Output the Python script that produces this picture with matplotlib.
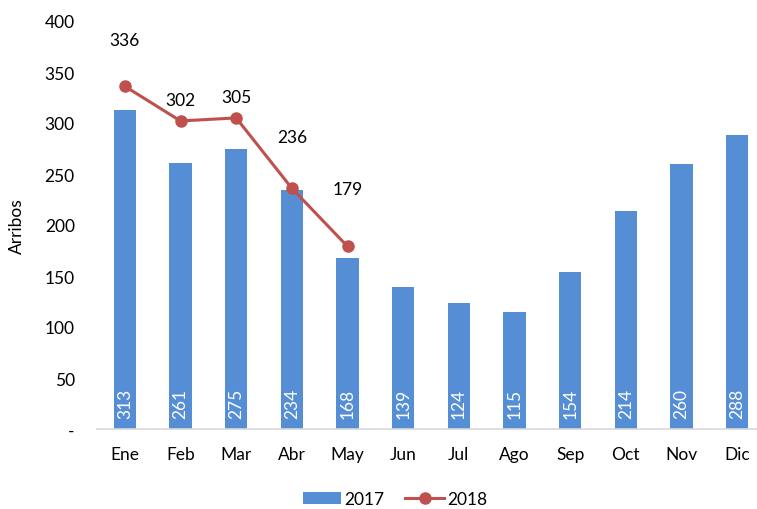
import matplotlib
matplotlib.use("Agg")
import matplotlib.pyplot as plt
import numpy as np

months = ["Ene", "Feb", "Mar", "Abr", "May", "Jun", "Jul", "Ago", "Sep", "Oct", "Nov", "Dic"]
arribos_2017 = [313, 261, 275, 234, 168, 139, 124, 115, 154, 214, 260, 288]
arribos_2018 = [336, 302, 305, 236, 179]
yticks = [0, 50, 100, 150, 200, 250, 300, 350, 400]

plt.rcParams["font.family"] = ["Lato", "DejaVu Sans"]

BAR_COLOR = "#558ED5"
LINE_COLOR = "#C0504D"

fig = plt.figure(figsize=(7.57, 5.10), dpi=100)
W, H = 757, 510
ax = fig.add_axes([97 / W, 80 / H, (765 - 97) / W, 408 / H])

x = np.arange(len(months))
bars = ax.bar(x, arribos_2017, width=0.4, color=BAR_COLOR, label="2017", zorder=2)
x18 = np.arange(len(arribos_2018))
line, = ax.plot(x18, arribos_2018, color=LINE_COLOR, linewidth=2.2, marker="o",
                markersize=8, label="2018", zorder=3)

# labels inside the bars, rotated
for xi, v in zip(x, arribos_2017):
    ax.annotate(str(v), (xi, 0), textcoords="offset points", xytext=(0, 8),
                rotation=90, ha="center", va="bottom", color="white", fontsize=12.5)

# labels above 2018 points
offsets = [33, 15, 15, 37, 41]
for xi, v, off in zip(x18, arribos_2018, offsets):
    ax.annotate(str(v), (xi, v), textcoords="offset points", xytext=(0, off),
                ha="center", va="center", color="black", fontsize=12.5)

ax.set_xlim(-0.5, 11.5)
ax.set_ylim(0, 400)
ax.set_xticks(x)
ax.set_xticklabels(months, fontsize=12.5)
ax.set_yticks(yticks)
ax.set_yticklabels(["-" if t == 0 else str(t) for t in yticks], fontsize=12.5)
ax.set_ylabel("Arribos", fontsize=12.5, labelpad=14)
ax.tick_params(axis="x", length=0, pad=12)
ax.tick_params(axis="y", length=0, pad=16)

for s in ["top", "right", "left"]:
    ax.spines[s].set_visible(False)
ax.spines["bottom"].set_color("#D9D9D9")
ax.spines["bottom"].set_linewidth(1.2)

fig.legend([bars, line], ["2017", "2018"], loc="center",
           bbox_to_anchor=(395 / W, 1 - 500 / H), ncol=2,
           frameon=False, fontsize=12.5, handlelength=2.2, columnspacing=1.2,
           handletextpad=0.2)

fig.savefig("out.png", dpi=100)
